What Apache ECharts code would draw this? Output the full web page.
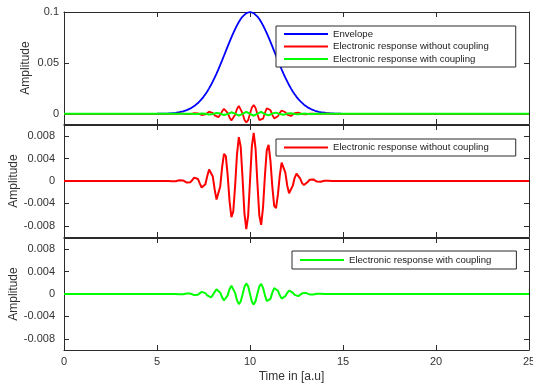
<!DOCTYPE html>
<html>
<head>
<meta charset="utf-8">
<script src="https://cdn.jsdelivr.net/npm/echarts@6/dist/echarts.min.js"></script>
<style>
html,body{margin:0;padding:0;background:#fff;}
#chart{width:533px;height:384px;}
</style>
</head>
<body>
<div id="chart"></div>
<script>
// ---- data ----
const times = [0,
 5.0,5.1,5.2,5.3,5.4,5.5,5.6,5.7,5.8,5.9,
 6.0,6.1,6.2,6.3,6.4,6.5,6.6,6.7,6.8,6.9,
 7.0,7.1,7.2,7.3,7.4,7.5,7.6,7.7,7.8,7.9,
 8.0,8.1,8.2,8.3,8.4,8.5,8.6,8.7,8.8,8.9,
 9.0,9.1,9.2,9.3,9.4,9.5,9.6,9.7,9.8,9.9,
 10.0,
 10.1,10.2,10.3,10.4,10.5,10.6,10.7,10.8,10.9,11.0,
 11.1,11.2,11.3,11.4,11.5,11.6,11.7,11.8,11.9,12.0,
 12.1,12.2,12.3,12.4,12.5,12.6,12.7,12.8,12.9,13.0,
 13.1,13.2,13.3,13.4,13.5,13.6,13.7,13.8,13.9,14.0,
 14.1,14.2,14.3,14.4,14.5,14.6,14.7,14.8,14.9,15.0,
 25];

const envelope = [0,
 0.00008,0.00010,0.00014,0.00018,0.00023,0.00030,0.00039,0.00050,0.00064,0.00081,
 0.00102,0.00128,0.00160,0.00198,0.00244,0.00299,0.00364,0.00441,0.00532,0.00637,
 0.00759,0.00898,0.01058,0.01238,0.01441,0.01668,0.01920,0.02196,0.02499,0.02826,
 0.03179,0.03555,0.03952,0.04369,0.04802,0.05248,0.05703,0.06162,0.06619,0.07070,
 0.07509,0.07929,0.08325,0.08690,0.09020,0.09309,0.09552,0.09745,0.09886,0.09971,
 0.10000,
 0.09971,0.09886,0.09745,0.09552,0.09309,0.09020,0.08690,0.08325,0.07929,0.07509,
 0.07070,0.06619,0.06162,0.05703,0.05248,0.04802,0.04369,0.03952,0.03555,0.03179,
 0.02826,0.02499,0.02196,0.01920,0.01668,0.01441,0.01238,0.01058,0.00898,0.00759,
 0.00637,0.00532,0.00441,0.00364,0.00299,0.00244,0.00198,0.00160,0.00128,0.00102,
 0.00081,0.00064,0.00050,0.00039,0.00030,0.00023,0.00018,0.00014,0.00010,0.00008,
 0];

const responseNoCoupling = [0,
 -0.000005,-0.000009,-0.000008,0.000001,0.000016,0.000026,0.000020,-0.000007,-0.000046,-0.000069,
 -0.000049,0.000024,0.000118,0.000167,0.000106,-0.000070,-0.000279,-0.000366,-0.000209,0.000181,
 0.000598,0.000731,0.000366,-0.000411,-0.001165,-0.001325,-0.000573,0.000831,0.002063,0.002181,
 0.000796,-0.001504,-0.003320,-0.003265,-0.000967,0.002450,0.004858,0.004438,0.001004,-0.003598,
 -0.006464,-0.005475,-0.000844,0.004773,0.007817,0.006129,0.000485,-0.005727,-0.008598,-0.006223,
 0,
 0.006223,0.008598,0.005727,-0.000485,-0.006129,-0.007817,-0.004773,0.000844,0.005475,0.006464,
 0.003598,-0.001004,-0.004438,-0.004858,-0.002450,0.000967,0.003265,0.003320,0.001504,-0.000796,
 -0.002181,-0.002063,-0.000831,0.000573,0.001325,0.001165,0.000411,-0.000366,-0.000731,-0.000598,
 -0.000181,0.000209,0.000366,0.000279,0.000070,-0.000106,-0.000167,-0.000118,-0.000024,0.000049,
 0.000069,0.000046,0.000007,-0.000020,-0.000026,-0.000016,-0.000001,0.000008,0.000009,0.000005,
 0];

const responseCoupling = [0,
 0.000002,0.000003,0.000003,0,-0.000006,-0.000009,-0.000007,0.000002,0.000016,0.000024,
 0.000017,-0.000008,-0.000041,-0.000058,-0.000037,0.000025,0.000098,0.000128,0.000073,-0.000063,
 -0.000191,-0.000234,-0.000117,0.000132,0.000373,0.000371,0.000160,-0.000233,-0.000578,-0.000611,
 -0.000199,0.000376,0.000830,0.000816,0.000242,-0.000588,-0.001166,-0.001065,-0.000241,0.000864,
 0.001487,0.001259,0.000194,-0.001098,-0.001798,-0.001348,-0.000107,0.001260,0.001892,0.001369,
 0,
 -0.001369,-0.001892,-0.001260,0.000107,0.001348,0.001798,0.001098,-0.000194,-0.001259,-0.001487,
 -0.000864,0.000241,0.001065,0.001166,0.000588,-0.000242,-0.000816,-0.000830,-0.000376,0.000199,
 0.000611,0.000578,0.000233,-0.000160,-0.000371,-0.000373,-0.000132,0.000117,0.000234,0.000191,
 0.000063,-0.000073,-0.000128,-0.000098,-0.000025,0.000037,0.000058,0.000041,0.000008,-0.000017,
 -0.000024,-0.000016,-0.000002,0.000007,0.000009,0.000006,0,-0.000003,-0.000003,-0.000002,
 0];

const seriesNames = ['Envelope', 'Electronic response without coupling', 'Electronic response with coupling'];
const xTickValues = [0, 5, 10, 15, 20, 25];
const yTicksTop = [0, 0.05, 0.1];
const yTicksSmall = [-0.008, -0.004, 0, 0.004, 0.008];
const xAxisTitle = 'Time in [a.u]';
const yAxisTitle = 'Amplitude';

// ---- chart ----
const FONT = '"Liberation Sans", Arial, Helvetica, sans-serif';
const FRAME = '#2b2b2b';
const TXT = '#333';

function pairs(vals) { return times.map((t, i) => [t, vals[i]]); }

const grids = [
  {left: 64, right: 4, top: 12, height: 112, outerBoundsMode: 'none', containLabel: false},
  {left: 64, right: 4, top: 125, height: 112, outerBoundsMode: 'none', containLabel: false},
  {left: 64, right: 4, top: 238, height: 112, outerBoundsMode: 'none', containLabel: false}
];

const xAxes = [];
const yAxes = [];
const yRanges = [[-0.01, 0.1, yTicksTop], [-0.01, 0.01, yTicksSmall], [-0.01, 0.01, yTicksSmall]];
const nameGaps = [32, 44, 44];
const labelMargins = [5, 9, 9];

for (let g = 0; g < 3; g++) {
  ['bottom', 'top'].forEach(pos => {
    const showLab = (pos === 'bottom' && g === 2);
    xAxes.push({
      gridIndex: g, type: 'value', position: pos, min: 0, max: 25, interval: 5,
      axisLine: {show: true, onZero: false, lineStyle: {color: FRAME, width: 1}},
      axisTick: {show: true, inside: true, length: 5, customValues: xTickValues, lineStyle: {color: FRAME, width: 1}},
      axisLabel: {show: showLab, customValues: xTickValues, color: TXT, fontSize: 11, fontFamily: FONT, margin: 6},
      splitLine: {show: false},
      name: showLab ? xAxisTitle : '',
      nameLocation: 'middle', nameGap: 21, nameMoveOverlap: false,
      nameTextStyle: {color: TXT, fontSize: 12, fontFamily: FONT, padding: [0, 10, 0, 0]}
    });
  });
  const [mn, mx, ticks] = yRanges[g];
  ['left', 'right'].forEach(pos => {
    const left = pos === 'left';
    yAxes.push({
      gridIndex: g, type: 'value', position: pos, min: mn, max: mx,
      axisLine: {show: true, onZero: false, lineStyle: {color: FRAME, width: 1}},
      axisTick: {show: true, inside: true, length: 5, customValues: ticks, lineStyle: {color: FRAME, width: 1}},
      axisLabel: {show: left, customValues: ticks, color: TXT, fontSize: 11, fontFamily: FONT, margin: labelMargins[g]},
      splitLine: {show: false},
      name: left ? yAxisTitle : '',
      nameLocation: 'middle', nameRotate: 90, nameGap: nameGaps[g], nameMoveOverlap: false,
      nameTextStyle: {color: TXT, fontSize: 12, fontFamily: FONT}
    });
  });
}

const lineBase = {type: 'line', symbol: 'none', showSymbol: false, animation: false, silent: true};

const series = [
  Object.assign({}, lineBase, {name: seriesNames[0], xAxisIndex: 0, yAxisIndex: 0, data: pairs(envelope),
    lineStyle: {color: '#0000ff', width: 1.8}, itemStyle: {color: '#0000ff'}, z: 2}),
  Object.assign({}, lineBase, {name: seriesNames[1], xAxisIndex: 0, yAxisIndex: 0, data: pairs(responseNoCoupling),
    lineStyle: {color: '#ff0000', width: 1.8}, itemStyle: {color: '#ff0000'}, z: 3}),
  Object.assign({}, lineBase, {name: seriesNames[2], xAxisIndex: 0, yAxisIndex: 0, data: pairs(responseCoupling),
    lineStyle: {color: '#00ff00', width: 2}, itemStyle: {color: '#00ff00'}, z: 4}),
  Object.assign({}, lineBase, {name: seriesNames[1], xAxisIndex: 2, yAxisIndex: 2, data: pairs(responseNoCoupling),
    lineStyle: {color: '#ff0000', width: 2}, itemStyle: {color: '#ff0000'}}),
  Object.assign({}, lineBase, {name: seriesNames[2], xAxisIndex: 4, yAxisIndex: 4, data: pairs(responseCoupling),
    lineStyle: {color: '#00ff00', width: 2}, itemStyle: {color: '#00ff00'}})
];

const legendBase = {
  orient: 'vertical', icon: 'rect', itemWidth: 44, itemHeight: 2, itemGap: 0.5,
  borderColor: FRAME, borderWidth: 1, backgroundColor: '#fff', selectedMode: false,
  textStyle: {fontSize: 9.6, lineHeight: 12, color: '#222', fontFamily: FONT}
};

const legends = [
  Object.assign({}, legendBase, {left: 276, top: 26, data: seriesNames.slice(), padding: [2, 27, 2, 8]}),
  Object.assign({}, legendBase, {left: 276, top: 139, data: [seriesNames[1]], padding: [2.5, 27, 2.5, 8]}),
  Object.assign({}, legendBase, {left: 292, top: 251, data: [seriesNames[2]], padding: [3, 25, 3, 8]})
];

const chart = echarts.init(document.getElementById('chart'), null, {renderer: 'canvas'});
chart.setOption({
  animation: false,
  backgroundColor: '#fff',
  grid: grids,
  xAxis: xAxes,
  yAxis: yAxes,
  legend: legends,
  series: series
});
</script>
</body>
</html>
